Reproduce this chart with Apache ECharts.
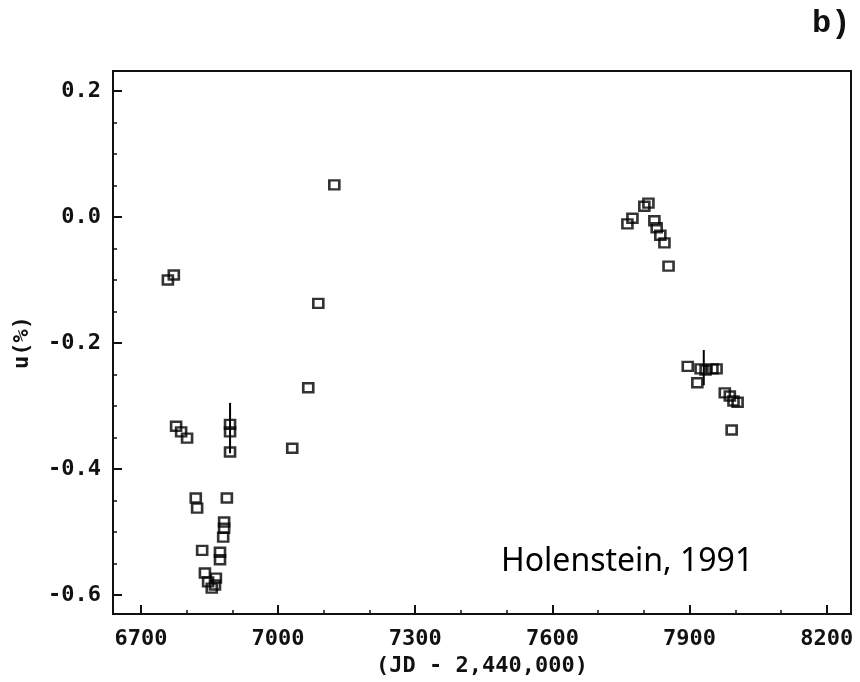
<!DOCTYPE html>
<html>
<head>
<meta charset="utf-8">
<script src="https://cdn.jsdelivr.net/npm/echarts@6/dist/echarts.min.js"></script>
<style>
  html, body { margin: 0; padding: 0; background: #fff; }
  #chart { width: 860px; height: 682px; }
</style>
</head>
<body>
<div id="chart"></div>
<script>
// observations: JD - 2,440,000 and u(%)
const jd = [
  6759, 6772, 6777, 6788, 6801, 6820, 6823, 6834, 6840, 6847, 6855, 6862, 6864,
  6873, 6873, 6880, 6882, 6882, 6888, 6895, 6895, 6895,
  7031, 7066, 7088, 7123,
  7764, 7775, 7801, 7810, 7823, 7828, 7836, 7845, 7854,
  7896, 7917, 7924, 7935, 7950, 7959, 7977, 7988, 7996, 8005, 7992
];
const u = [
  -0.100, -0.092, -0.332, -0.341, -0.351, -0.446, -0.462, -0.529, -0.565, -0.579, -0.589, -0.584, -0.573,
  -0.532, -0.544, -0.508, -0.494, -0.484, -0.446, -0.329, -0.341, -0.373,
  -0.367, -0.271, -0.137, 0.051,
  -0.011, -0.002, 0.017, 0.022, -0.006, -0.017, -0.029, -0.041, -0.078,
  -0.237, -0.263, -0.241, -0.243, -0.241, -0.241, -0.279, -0.284, -0.292, -0.294, -0.338
];

// error bars
const errX = [6895, 7931];
const errLow = [-0.375, -0.267];
const errHigh = [-0.295, -0.211];

// ticks
const xTicks = [6700, 7000, 7300, 7600, 7900, 8200];
const xMinorTicks = [6700, 6800, 6900, 7000, 7100, 7200, 7300, 7400, 7500, 7600, 7700, 7800, 7900, 8000, 8100, 8200];
const yTicks = [-0.6, -0.4, -0.2, 0, 0.2];
const yMinorTicks = [-0.6, -0.55, -0.5, -0.45, -0.4, -0.35, -0.3, -0.25, -0.2, -0.15, -0.1, -0.05, 0, 0.05, 0.1, 0.15, 0.2];

const labelFont = {
  fontFamily: 'DejaVu Sans Mono',
  fontWeight: 'bold',
  fontSize: 22,
  color: '#111'
};

const points = jd.map((x, i) => [x, u[i]]);
const bars = errX.map((x, i) => [x, errLow[i], errHigh[i]]);

const chart = echarts.init(document.getElementById('chart'));

chart.setOption({
  backgroundColor: '#fff',
  animation: false,
  grid: {
    left: 113, right: 9, top: 71, bottom: 68,
    show: true,
    borderColor: '#111',
    borderWidth: 2
  },
  xAxis: [{
    type: 'value',
    min: 6639,
    max: 8253,
    name: '(JD - 2,440,000)',
    nameLocation: 'middle',
    nameGap: 40,
    nameTextStyle: labelFont,
    axisLine: { onZero: false, lineStyle: { color: '#111', width: 2 } },
    axisTick: { inside: true, length: 9, customValues: xTicks, lineStyle: { color: '#111', width: 2 } },
    axisLabel: Object.assign({
      customValues: xTicks,
      margin: 14,
      formatter: v => String(v)
    }, labelFont),
    splitLine: { show: false }
  }, {
    type: 'value',
    min: 6639,
    max: 8253,
    position: 'bottom',
    axisLine: { show: false, onZero: false },
    axisTick: { inside: true, length: 4, customValues: xMinorTicks, lineStyle: { color: '#111', width: 1.5 } },
    axisLabel: { show: false },
    splitLine: { show: false }
  }],
  yAxis: [{
    type: 'value',
    min: -0.63,
    max: 0.2317,
    name: 'u(%)',
    nameLocation: 'middle',
    nameGap: 80,
    nameRotate: 90,
    nameTextStyle: labelFont,
    axisLine: { onZero: false, lineStyle: { color: '#111', width: 2 } },
    axisTick: { inside: true, length: 9, customValues: yTicks, lineStyle: { color: '#111', width: 2 } },
    axisLabel: Object.assign({
      customValues: yTicks,
      margin: 12,
      formatter: v => v.toFixed(1)
    }, labelFont),
    splitLine: { show: false }
  }, {
    type: 'value',
    min: -0.63,
    max: 0.2317,
    position: 'left',
    axisLine: { show: false, onZero: false },
    axisTick: { inside: true, length: 4, customValues: yMinorTicks, lineStyle: { color: '#111', width: 1.5 } },
    axisLabel: { show: false },
    splitLine: { show: false }
  }],
  series: [{
    type: 'custom',
    data: bars,
    renderItem: (params, api) => {
      const a = api.coord([api.value(0), api.value(1)]);
      const b = api.coord([api.value(0), api.value(2)]);
      return {
        type: 'line',
        shape: { x1: a[0], y1: a[1], x2: b[0], y2: b[1] },
        style: { stroke: '#000', lineWidth: 2 }
      };
    },
    silent: true
  }, {
    type: 'scatter',
    data: points,
    symbol: 'rect',
    symbolSize: [10, 9],
    itemStyle: {
      color: 'rgba(0,0,0,0)',
      borderColor: '#000',
      borderWidth: 2.5
    }
  }],
  graphic: [{
    type: 'text',
    left: 501,
    top: 546,
    style: {
      text: 'Holenstein, 1991',
      fontFamily: 'Noto Sans',
      fontSize: 32,
      fill: '#000'
    }
  }, {
    type: 'text',
    left: 812,
    top: 8,
    style: {
      text: 'b)',
      fontFamily: 'Liberation Mono',
      fontWeight: 'bold',
      fontSize: 32,
      fill: '#111'
    }
  }]
});
</script>
</body>
</html>
